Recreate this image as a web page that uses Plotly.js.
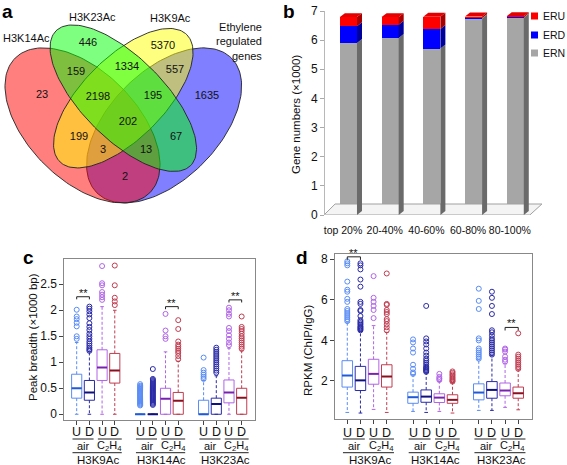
<!DOCTYPE html>
<html><head><meta charset="utf-8">
<script src="https://cdn.plot.ly/plotly-3.0.1.min.js"></script>
<style>html,body{margin:0;padding:0;background:#fff}#chart{width:567px;height:465px}</style>
</head><body><div id="chart"></div>
<script>
// ================= DATA =================
// Panel a: Venn diagram (red=H3K14Ac, green=H3K23Ac, yellow=H3K9Ac, blue=Ethylene regulated genes)
const vennSetNames = ['H3K14Ac', 'H3K23Ac', 'H3K9Ac', 'Ethylene<br>regulated<br>genes'];
const vennRegions = ['K14', 'K23', 'K9', 'ER', 'K14&K23', 'K23&K9', 'K9&ER', 'K14&K23&K9', 'K23&K9&ER',
                     'K14&K23&K9&ER', 'K14&K9', 'K23&ER', 'K14&K9&ER', 'K14&K23&ER', 'K14&ER'];
const vennCounts = [23, 446, 5370, 1635, 159, 1334, 557, 2198, 195, 202, 199, 67, 3, 13, 2];

// Panel b: gene numbers (x1000)
const bCats = ['top 20%', '20-40%', '40-60%', '60-80%', '80-100%'];
const bERN = [5.90, 6.07, 5.71, 6.74, 6.77];
const bERD = [0.58, 0.46, 0.67, 0.01, 0.01];
const bERU = [0.31, 0.26, 0.42, 0.06, 0.04];

// Panels c/d: box categories
const boxGroups = ['H3K9Ac', 'H3K14Ac', 'H3K23Ac'];
const boxConds = ['U', 'D', 'U', 'D'];
const boxTreat = ['air', 'C<sub>2</sub>H<sub>4</sub>'];

// Panel c: peak breadth (x1000 bp)
const cQ1  = [0.31, 0.27, 0.65, 0.60, 0, 0, 0, 0, 0, 0, 0.22, 0];
const cMed = [0.50, 0.42, 0.90, 0.84, 0, 0, 0.30, 0.26, 0, 0.20, 0.42, 0.32];
const cQ3  = [0.77, 0.65, 1.24, 1.17, 0, 0, 0.50, 0.42, 0.27, 0.31, 0.66, 0.50];
const cLo  = [0, 0, 0, 0, 0, 0, 0, 0, 0, 0, 0, 0];
const cHi  = [1.38, 1.20, 2.07, 2.00, 0, 0, 1.20, 1.02, 0.65, 0.74, 1.27, 1.22];
const cOut = [
  [1.45, 1.50, 1.69, 1.76, 1.83, 1.88, 2.01],
  [1.22, 1.25, 1.28, 1.32, 1.36, 1.40, 1.45, 1.50, 1.55, 1.62, 1.68, 1.75, 1.85, 1.92, 1.98, 2.03, 2.07],
  [2.20, 2.25, 2.30, 2.35, 2.48, 2.52, 2.85],
  [2.10, 2.17, 2.24, 2.48, 2.86],
  [0.17, 0.19, 0.21, 0.23, 0.25, 0.27, 0.29, 0.31, 0.33, 0.35, 0.37, 0.39, 0.41, 0.43, 0.45, 0.47, 0.49, 0.51, 0.53, 0.55, 0.58],
  [0.18, 0.20, 0.22, 0.24, 0.26, 0.28, 0.30, 0.32, 0.34, 0.36, 0.38, 0.40, 0.42, 0.44, 0.46, 0.48, 0.50, 0.52, 0.54, 0.56, 0.58, 0.60, 0.62, 0.64, 0.66, 0.68, 0.87],
  [1.45, 1.50, 1.61, 1.93],
  [1.06, 1.12, 1.18, 1.22, 1.26, 1.30, 1.34, 1.40, 1.64, 1.81],
  [0.68, 0.72, 0.76, 0.80, 0.85, 1.09],
  [0.80, 0.84, 0.88, 0.92, 0.96, 1.00, 1.04, 1.08, 1.12, 1.16, 1.20, 1.24, 1.28],
  [1.33, 1.38, 1.45, 1.52, 1.60, 1.66, 1.88, 1.93, 2.00, 2.05],
  [1.26, 1.30, 1.34, 1.38, 1.42, 1.46, 1.50, 1.55, 1.60, 1.64, 1.68, 1.88]
];
// significance brackets: box indices (0-11) and bracket height
const cSigA = [0, 6, 10], cSigB = [1, 7, 11], cSigY = [2.26, 2.07, 2.20];

// Panel d: RPKM (ChIP/IgG)
const dQ1  = [1.70, 1.53, 1.84, 1.70, 0.90, 0.95, 0.94, 0.90, 1.07, 1.15, 1.27, 1.15];
const dMed = [2.27, 2.03, 2.35, 2.22, 1.20, 1.23, 1.18, 1.07, 1.43, 1.56, 1.53, 1.40];
const dQ3  = [3.00, 2.72, 3.07, 2.80, 1.45, 1.56, 1.37, 1.32, 1.86, 1.97, 1.90, 1.70];
const dLo  = [0.45, 0.42, 0.60, 0.45, 0.50, 0.45, 0.50, 0.42, 0.55, 0.55, 0.70, 0.58];
const dHi  = [4.90, 4.45, 4.73, 4.40, 2.30, 2.40, 1.97, 1.92, 3.05, 3.25, 2.85, 2.55];
const dOut = [
  [4.95, 5.05, 5.15, 5.25, 5.35, 5.45, 5.55, 5.90, 6.05, 6.40, 6.50, 6.90, 7.70, 7.80, 7.90],
  [4.50, 4.55, 4.60, 4.65, 4.70, 4.78, 4.85, 4.92, 5.00, 5.20, 5.45, 5.50, 5.80, 5.90, 6.65, 7.00, 7.50, 7.70, 7.80],
  [5.10, 5.50, 5.70, 5.90, 6.10, 7.17],
  [4.50, 4.65, 4.80, 4.95, 5.05, 5.30, 5.40, 5.50, 5.75, 5.80, 7.30],
  [2.35, 2.42, 2.60, 2.80, 3.40, 3.60, 3.90, 4.05],
  [2.45, 2.50, 2.55, 2.60, 2.65, 2.70, 2.80, 2.90, 3.00, 3.10, 3.25, 3.40, 3.60, 3.80, 3.95, 4.10, 5.70],
  [2.05, 2.12, 2.20, 2.35],
  [1.97, 2.02, 2.08, 2.14, 2.20, 2.27, 2.33, 2.40, 2.47],
  [3.10, 3.20, 3.30, 3.40, 3.50, 3.60, 4.00, 4.10, 5.55, 5.95, 6.55],
  [3.30, 3.40, 3.50, 3.60, 3.70, 3.80, 3.90, 4.00, 4.10, 4.25, 4.40, 4.50, 5.30, 5.70, 6.10, 6.40],
  [2.95, 3.05, 3.20, 3.45, 3.55, 3.60],
  [2.60, 2.70, 2.80, 2.90, 3.00, 3.10, 3.20, 3.30, 4.35]
];
const dSigA = [0, 10], dSigB = [1, 11], dSigY = [8.12, 4.64];

// ================= STYLE / LAYOUT =================
const FONT = 'Liberation Sans, Arial, sans-serif';
const W = 567, H = 465;
const pxX = v => v / W, pxY = v => 1 - v / H;
const traces = [];
const annotations = [];
const shapes = [];

// ---------- Panel a ----------
// ellipse geometry in panel pixel units (drawn bottom -> top: blue, red, yellow, green)
const vennEllipses = [
  {cx: 164.1, cy: 125.4, a: 95.2, b: 54.4, ang: -45, col: 'rgba(0,0,255,0.5)'},
  {cx: 82.5,  cy: 125.4, a: 95.2, b: 54.4, ang: 45,  col: 'rgba(255,0,0,0.5)'},
  {cx: 123.3, cy: 98.2,  a: 89.8, b: 40.8, ang: -45, col: 'rgba(255,255,0,0.5)'},
  {cx: 123.3, cy: 98.2,  a: 95.2, b: 40.8, ang: 45,  col: 'rgba(0,255,0,0.5)'}
];
vennEllipses.forEach(e => {
  const t = e.ang * Math.PI / 180, xs = [], ys = [];
  for (let k = 0; k <= 160; k++) {
    const u = 2 * Math.PI * k / 160, ex = e.a * Math.cos(u), ey = e.b * Math.sin(u);
    xs.push(e.cx + ex * Math.cos(t) - ey * Math.sin(t));
    ys.push(e.cy + ex * Math.sin(t) + ey * Math.cos(t));
  }
  traces.push({type: 'scatter', mode: 'lines', x: xs, y: ys, xaxis: 'x', yaxis: 'y', fill: 'toself',
    fillcolor: e.col, line: {color: '#222', width: 0.9}, hoverinfo: 'skip', showlegend: false});
});
const vennLabelX = [42, 88, 163, 207, 76, 127, 175, 98, 153, 128, 79, 176, 103, 146, 125];
const vennLabelY = [95, 43, 46, 96, 72, 67, 70, 97, 96, 122, 137, 137, 150, 150, 177];
traces.push({type: 'scatter', mode: 'text', x: vennLabelX, y: vennLabelY, text: vennCounts.map(String),
  customdata: vennRegions, xaxis: 'x', yaxis: 'y', textfont: {family: FONT, size: 11, color: '#111'},
  hoverinfo: 'skip', showlegend: false});
const vennNameX = [26, 92, 170, 264], vennNameY = [38, 17, 18, 41];
vennSetNames.forEach((n, i) => annotations.push({text: n, x: vennNameX[i], y: vennNameY[i], xref: 'x', yref: 'y',
  showarrow: false, xanchor: i === 3 ? 'right' : 'center', align: i === 3 ? 'right' : 'center', yanchor: 'middle',
  font: {family: FONT, size: 11, color: '#111'}}));

// ---------- Panel b ----------
const bW = 0.41, bOff = -0.075, bDX = 0.12, bDY = 0.137;
const bIdx = bCats.map((_, i) => i);
const bSeries = [
  {name: 'ERN', vals: bERN, front: '#a6a6a6', side: '#6a6a6a', top: '#c4c4c4'},
  {name: 'ERD', vals: bERD, front: '#0000ff', side: '#00009c', top: '#3a3aff'},
  {name: 'ERU', vals: bERU, front: '#ff0000', side: '#a80000', top: '#e40000'}
];
// floor
traces.push({type: 'scatter', mode: 'lines', x: [-0.456, 4.48, 4.77, -0.19, -0.456], y: [0, 0, 0.377, 0.377, 0],
  xaxis: 'x2', yaxis: 'y2', fill: 'toself', fillcolor: '#f4f4f4', line: {color: '#a0a0a0', width: 1},
  hoverinfo: 'skip', showlegend: false, cliponaxis: false});
const cum = bIdx.map(() => 0);
bSeries.forEach(s => {
  traces.push({type: 'bar', name: s.name, x: bIdx, y: s.vals, xaxis: 'x2', yaxis: 'y2', width: bW, offset: bOff,
    marker: {color: s.front, line: {width: 0}}, hoverinfo: 'skip', showlegend: false});
  const sx = [], sy = [];
  bIdx.forEach(i => {
    const y0 = cum[i], y1 = cum[i] + s.vals[i], xr = i + bOff + bW;
    sx.push(xr, xr + bDX, xr + bDX, xr, xr, null);
    sy.push(y0, y0 + bDY, y1 + bDY, y1, y0, null);
    cum[i] = y1;
  });
  traces.push({type: 'scatter', mode: 'lines', x: sx, y: sy, xaxis: 'x2', yaxis: 'y2', fill: 'toself',
    fillcolor: s.side, line: {width: 0, color: s.side}, hoverinfo: 'skip', showlegend: false, cliponaxis: false});
});
{
  const tx = [], ty = [];
  bIdx.forEach(i => {
    const xl = i + bOff, T = cum[i];
    tx.push(xl, xl + bDX, xl + bW + bDX, xl + bW, xl, null);
    ty.push(T, T + bDY, T + bDY, T, T, null);
  });
  traces.push({type: 'scatter', mode: 'lines', x: tx, y: ty, xaxis: 'x2', yaxis: 'y2', fill: 'toself',
    fillcolor: bSeries[2].top, line: {width: 0, color: bSeries[2].top}, hoverinfo: 'skip', showlegend: false, cliponaxis: false});
}
// custom legend (ERU, ERD, ERN)
const legY = [16, 35, 53];
[bSeries[2], bSeries[1], bSeries[0]].forEach((s, k) => {
  shapes.push({type: 'rect', xref: 'paper', yref: 'paper', x0: pxX(531), x1: pxX(538),
    y0: pxY(legY[k] + 3.5), y1: pxY(legY[k] - 3.5), fillcolor: s.front, line: {width: 0}});
  annotations.push({text: s.name, xref: 'paper', yref: 'paper', x: pxX(541), y: pxY(legY[k]), xanchor: 'left',
    yanchor: 'middle', showarrow: false, font: {family: FONT, size: 10.5, color: '#111'}});
});

// ---------- Panels c & d ----------
const boxPos = [0, 1, 2, 3, 5, 6, 7, 8, 10, 11, 12, 13];
const boxCol = ['#5a8cf5', '#2a2aa8', '#b064e6', '#c03c50'];
const medCol = ['#1f5ad8', '#10107e', '#7a22b0', '#8a1020'];
function addBoxes(q1, med, q3, lo, hi, out, xa, ya) {
  const bw = 0.4, cw = 0.14;
  for (let k = 0; k < 4; k++) {
    const wx = [], wy = [], cx = [], cy = [], bx = [], by = [], mx = [], my = [], ox = [], oy = [];
    for (let i = k; i < 12; i += 4) {
      const p = boxPos[i];
      wx.push(p, p, null, p, p, null); wy.push(q3[i], hi[i], null, q1[i], lo[i], null);
      cx.push(p - cw, p + cw, null, p - cw, p + cw, null); cy.push(hi[i], hi[i], null, lo[i], lo[i], null);
      bx.push(p - bw, p + bw, p + bw, p - bw, p - bw, null); by.push(q1[i], q1[i], q3[i], q3[i], q1[i], null);
      mx.push(p - bw, p + bw, null); my.push(med[i], med[i], null);
      out[i].forEach(v => { ox.push(p); oy.push(v); });
    }
    const base = {type: 'scatter', xaxis: xa, yaxis: ya, hoverinfo: 'skip', showlegend: false, cliponaxis: false};
    traces.push(Object.assign({}, base, {mode: 'lines', x: wx, y: wy, line: {color: boxCol[k], width: 1, dash: '3px,2px'}}));
    traces.push(Object.assign({}, base, {mode: 'lines', x: cx, y: cy, line: {color: boxCol[k], width: 1}}));
    traces.push(Object.assign({}, base, {mode: 'lines', x: bx, y: by, line: {color: boxCol[k], width: 1}}));
    traces.push(Object.assign({}, base, {mode: 'lines', x: mx, y: my, line: {color: medCol[k], width: 2}}));
    traces.push(Object.assign({}, base, {mode: 'markers', x: ox, y: oy,
      marker: {symbol: 'circle-open', size: 5, color: boxCol[k], line: {width: 1, color: boxCol[k]}}}));
  }
}
addBoxes(cQ1, cMed, cQ3, cLo, cHi, cOut, 'x3', 'y3');
addBoxes(dQ1, dMed, dQ3, dLo, dHi, dOut, 'x4', 'y4');

function addSig(A, B, Y, drop, xa, ya) {
  const sx = [], sy = [];
  A.forEach((a, j) => {
    const x0 = boxPos[a], x1 = boxPos[B[j]];
    sx.push(x0, x0, x1, x1, null); sy.push(Y[j] - drop, Y[j], Y[j], Y[j] - drop, null);
    annotations.push({text: '**', x: (x0 + x1) / 2, y: Y[j], xref: xa, yref: ya, yanchor: 'bottom', showarrow: false,
      yshift: -4, font: {family: FONT, size: 11, color: '#111'}});
  });
  traces.push({type: 'scatter', mode: 'lines', x: sx, y: sy, xaxis: xa, yaxis: ya, line: {color: '#222', width: 1},
    hoverinfo: 'skip', showlegend: false, cliponaxis: false});
}
addSig(cSigA, cSigB, cSigY, 0.05, 'x3', 'y3');
addSig(dSigA, dSigB, dSigY, 0.15, 'x4', 'y4');

function addGroupLabels(xa, yUD) {
  const yLine1 = pxY(439), yTxt1 = pxY(445.5), yLine2 = pxY(452.7), yTxt2 = pxY(460);
  boxPos.forEach((p, i) => annotations.push({text: boxConds[i % 4], x: p, y: pxY(yUD), xref: xa, yref: 'paper',
    showarrow: false, yanchor: 'middle', font: {family: FONT, size: 12.5, color: '#111'}}));
  boxGroups.forEach((g, gi) => {
    const b = boxPos[gi * 4];
    shapes.push({type: 'line', xref: xa, yref: 'paper', x0: b - 0.33, x1: b + 1.33, y0: yLine1, y1: yLine1, line: {color: '#222', width: 1}});
    shapes.push({type: 'line', xref: xa, yref: 'paper', x0: b + 1.67, x1: b + 3.55, y0: yLine1, y1: yLine1, line: {color: '#222', width: 1}});
    shapes.push({type: 'line', xref: xa, yref: 'paper', x0: b - 0.33, x1: b + 3.55, y0: yLine2, y1: yLine2, line: {color: '#222', width: 1}});
    annotations.push({text: boxTreat[0], x: b + 0.55, y: yTxt1, xref: xa, yref: 'paper', showarrow: false, yanchor: 'middle',
      font: {family: FONT, size: 11, color: '#111'}});
    annotations.push({text: boxTreat[1], x: b + 2.6, y: yTxt1, xref: xa, yref: 'paper', showarrow: false, yanchor: 'middle',
      font: {family: FONT, size: 11, color: '#111'}});
    annotations.push({text: g, x: b + 1.7, y: yTxt2, xref: xa, yref: 'paper', showarrow: false, yanchor: 'middle',
      font: {family: FONT, size: 11.5, color: '#111'}});
  });
}
addGroupLabels('x3', 432);
addGroupLabels('x4', 432.5);

// titles & panel letters
const rotTitles = [
  {t: 'Gene numbers (×1000)', x: 296, y: 115},
  {t: 'Peak breadth (×1000 bp)', x: 33, y: 337},
  {t: 'RPKM (ChIP/IgG)', x: 308, y: 350}
];
rotTitles.forEach(r => annotations.push({text: r.t, x: pxX(r.x), y: pxY(r.y), xref: 'paper', yref: 'paper',
  textangle: -90, showarrow: false, xanchor: 'center', yanchor: 'middle', font: {family: FONT, size: 11.5, color: '#111'}}));
const letters = [{t: 'a', x: 7, y: 12}, {t: 'b', x: 289, y: 12}, {t: 'c', x: 28, y: 257}, {t: 'd', x: 302, y: 257}];
letters.forEach(l => annotations.push({text: '<b>' + l.t + '</b>', x: pxX(l.x), y: pxY(l.y), xref: 'paper', yref: 'paper',
  showarrow: false, xanchor: 'center', yanchor: 'middle', font: {family: FONT, size: 19, color: '#000'}}));

const tickFont = {family: FONT, size: 12, color: '#111'};
const boxX = (dom, rng) => ({domain: dom, range: rng, tickvals: boxPos, showticklabels: false,
  ticks: 'outside', ticklen: 4, tickcolor: '#444', showline: true, mirror: true, linecolor: '#888', linewidth: 1,
  showgrid: false, zeroline: false, fixedrange: true});
const boxY = (dom, rng, tv) => ({domain: dom, range: rng, tickvals: tv, ticktext: tv.map(String), ticks: 'outside',
  ticklen: 4, tickcolor: '#444', showline: true, mirror: true, linecolor: '#888', linewidth: 1, showgrid: false,
  zeroline: false, tickfont: tickFont, fixedrange: true});

const layout = {
  width: W, height: H, margin: {l: 0, r: 0, t: 0, b: 0}, paper_bgcolor: '#fff', plot_bgcolor: 'rgba(0,0,0,0)',
  showlegend: false, barmode: 'stack', font: {family: FONT, color: '#111'},
  xaxis: {domain: [0, pxX(290)], range: [0, 290], visible: false, fixedrange: true},
  yaxis: {domain: [pxY(230), 1], range: [230, 0], visible: false, fixedrange: true},
  xaxis2: {domain: [pxX(325), pxX(542)], range: [-0.432, 4.772], anchor: 'y2', tickvals: bIdx, ticktext: bCats,
    tickangle: 0, ticks: '', showline: false, showgrid: false, zeroline: false, ticklabelstandoff: 7,
    tickfont: {family: FONT, size: 10.5, color: '#111'}, fixedrange: true},
  yaxis2: {domain: [pxY(215), pxY(11)], range: [0, 7], anchor: 'x2', tickvals: [0, 1, 2, 3, 4, 5, 6, 7],
    ticks: 'outside', ticklen: 4, tickcolor: '#aaa', showline: true, linecolor: '#b8b8b8', showgrid: false,
    zeroline: false, tickfont: tickFont, fixedrange: true},
  xaxis3: Object.assign(boxX([pxX(64.3), pxX(255)], [-0.977, 14.05]), {anchor: 'y3'}),
  yaxis3: Object.assign(boxY([pxY(420), pxY(259.3)], [-0.11, 2.98], [0, 0.5, 1, 1.5, 2, 2.5]), {anchor: 'x3'}),
  xaxis4: Object.assign(boxX([pxX(335), pxX(532.3)], [-0.935, 14.07]), {anchor: 'y4'}),
  yaxis4: Object.assign(boxY([pxY(419), pxY(254)], [0.126, 8.26], [2, 4, 6, 8]), {anchor: 'x4'}),
  annotations: annotations, shapes: shapes
};
Plotly.newPlot('chart', traces, layout, {displayModeBar: false, staticPlot: true});
</script>
</body></html>
